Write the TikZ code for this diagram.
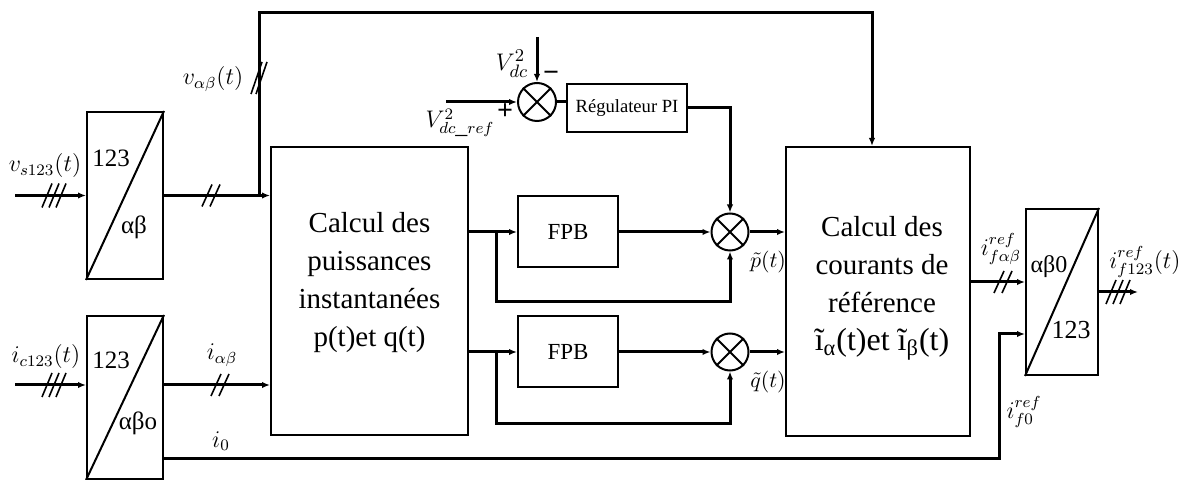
\documentclass[tikz,border=0pt]{standalone}
\usepackage{fontspec}
\setmainfont{Liberation Serif}
\usetikzlibrary{arrows.meta,calc}
\tikzset{
  sig/.style={line width=1.5pt},
  arr/.style={sig,-{Latex[length=4pt,width=3.2pt]}},
  blk/.style={draw,line width=1pt,inner sep=0pt},
  summ/.style={draw,circle,line width=1pt,minimum size=18.5pt,inner sep=0pt},
  slashln/.style={line width=0.8pt},
  lbl/.style={inner sep=0pt,font=\fontsize{12}{14}\selectfont},
  blktext/.style={align=center,inner sep=0pt,font=\fontsize{14.5}{19}\selectfont},
  dslash/.pic={\draw[slashln] (-9,11)--(1,-11) (-1,11)--(9,-11);},
  tslash/.pic={\draw[slashln] (-12,12)--(-2,-12) (-5,12)--(5,-12) (2,12)--(12,-12);},
  vslash/.pic={\draw[slashln] (-8,16)--(3,-16) (-3,16)--(8,-16);},
}
\newcommand{\sumcross}[1]{\draw[line width=1pt] (#1.north west) -- (#1.south east) (#1.north east) -- (#1.south west);}
\begin{document}
\begin{tikzpicture}[x=0.5pt,y=-0.5pt]
\useasboundingbox (0,0) rectangle (1193,480);

% coordinate transformation blocks
\node[blk,minimum width=38pt,minimum height=83.5pt] (T1) at (125,195.5) {};
\draw[line width=1pt] (T1.south west) -- (T1.north east);
\node[font=\fontsize{12.5}{13}\selectfont] (T1a) at (111,158) {123};
\node[font=\fontsize{12.5}{13}\selectfont] (T1b) at (134,227) {αβ};

\node[blk,minimum width=38pt,minimum height=81.5pt] (T2) at (125,397.5) {};
\draw[line width=1pt] (T2.south west) -- (T2.north east);
\node[font=\fontsize{12.5}{13}\selectfont] (T2a) at (111,360) {123};
\node[font=\fontsize{12.5}{13}\selectfont] (T2b) at (138,423) {αβo};

\node[blk,minimum width=36pt,minimum height=83pt] (T3) at (1062,292) {};
\draw[line width=1pt] (T3.south west) -- (T3.north east);
\node[font=\fontsize{12}{12}\selectfont] (T3a) at (1049,267) {αβ0};
\node[font=\fontsize{13}{13}\selectfont] (T3b) at (1071,330) {123};

% computation blocks
\node[blk,minimum width=98.5pt,minimum height=144pt] (P) at (369.5,291) {};
\node[blktext] (Ptxt) at (369.5,283) {Calcul des\\puissances\\instantanées\\p(t)et q(t)};

\node[blk,minimum width=92pt,minimum height=144.5pt] (C) at (878,291.5) {};
\node[blktext] (Ctxt) at (882,288) {Calcul des\\courants de\\référence\\{\fontsize{16}{19}\selectfont ĩ\textsubscript{α}(t)et ĩ\textsubscript{β}(t)}};

% filters, regulator and summing junctions
\node[blk,minimum width=50pt,minimum height=35.5pt,font=\fontsize{11.5}{12}\selectfont] (F1) at (568,232) {FPB};
\node[blk,minimum width=50pt,minimum height=35.5pt,font=\fontsize{11.5}{12}\selectfont] (F2) at (568,352) {FPB};
\node[blk,minimum width=60pt,minimum height=24pt,font=\fontsize{9.3}{10}\selectfont] (PI) at (627,108) {Régulateur PI};

\node[summ,minimum size=19pt] (S0) at (537,102) {};
\sumcross{S0}
\node[summ] (Sp) at (730,232) {};
\sumcross{Sp}
\node[summ] (Sq) at (730,352) {};
\sumcross{Sq}

% voltage path
\coordinate (vin) at (15,195.5);
\draw[arr] (vin) -- (T1.west);
\pic at (54,195.5) {tslash};
\draw[arr] (T1.east) -- (T1.east -| P.west);
\pic at (211,195.5) {dslash};
\coordinate (J1) at (259,195.5);
\coordinate (top1) at (259,13);
\coordinate (top2) at (872,13);
\draw[arr] (J1) -- (top1) -- (top2) -- (top2 |- C.north);
\pic at (259,78) {vslash};

% current path
\coordinate (iin) at (15,385);
\draw[arr] (iin) -- (iin -| T2.west);
\pic at (54,385) {tslash};
\draw[arr] (iin -| T2.east) -- (iin -| P.west);
\pic at (220,385) {dslash};
\coordinate (i0a) at (163,458);
\coordinate (i0b) at (999,458);
\coordinate (i0c) at (999,334);
\draw[arr] (i0a) -- (i0b) -- (i0c) -- (i0c -| T3.west);

% DC bus regulation
\coordinate (vdc) at (537,37);
\draw[arr] (vdc) -- (S0.north);
\coordinate (vref) at (446,102);
\draw[arr] (vref) -- (S0.west);
\draw[sig] (S0.east) -- (S0.east -| PI.west);
\draw[arr] (PI.east) -| (Sp.north);

% active power branch
\draw[arr] (P.east |- F1.west) -- (F1.west);
\coordinate (bp) at (496,232);
\coordinate (bp1) at (496,302);
\draw[arr] (bp) -- (bp1) -| (Sp.south);
\draw[arr] (F1.east) -- (Sp.west);
\draw[arr] (Sp.east) -- (Sp.east -| C.west);

% reactive power branch
\draw[arr] (P.east |- F2.west) -- (F2.west);
\coordinate (bq) at (496,352);
\coordinate (bq1) at (496,423);
\draw[arr] (bq) -- (bq1) -| (Sq.south);
\draw[arr] (F2.east) -- (Sq.west);
\draw[arr] (Sq.east) -- (Sq.east -| C.west);

% reference currents output
\coordinate (co) at (970,282);
\draw[arr] (co) -- (co -| T3.west);
\pic at (1003,282) {dslash};
\coordinate (fout) at (1138,292);
\draw[arr] (T3.east) -- (fout);
\pic at (1118,292) {tslash};

% labels
\node[lbl] (Lvs) at (45,166) {$v_{s123}(t)$};
\node[lbl] (Lvab) at (213,79) {$v_{\alpha\beta}(t)$};
\node[lbl] (Lic) at (46,357) {$i_{c123}(t)$};
\node[lbl] (Liab) at (222,355) {$i_{\alpha\beta}$};
\node[lbl] (Li0) at (221,441) {$i_0$};
\node[lbl,font=\fontsize{12.5}{14}\selectfont] (Lvdc) at (512,64) {$V_{dc}^2$};
\node[lbl] (Lvref) at (460,123) {$V_{dc\_ref}^2$};
\node[inner sep=0pt,font=\bfseries\fontsize{14}{14}\selectfont] (Lplus) at (505,112) {+};
\node[inner sep=0pt,font=\bfseries\fontsize{14}{14}\selectfont] (Lminus) at (551,76) {−};
\node[lbl,font=\fontsize{11}{13}\selectfont] (Lp) at (768,262) {$\tilde p(t)$};
\node[lbl,font=\fontsize{11}{13}\selectfont] (Lq) at (768,382) {$\tilde q(t)$};
\node[lbl] (Lfab) at (1001,249) {$i_{f\alpha\beta}^{ref}$};
\node[lbl] (Lf123) at (1145,262) {$i_{f123}^{ref}(t)$};
\node[lbl] (Lf0) at (1024,412) {$i_{f0}^{ref}$};
\end{tikzpicture}
\end{document}
